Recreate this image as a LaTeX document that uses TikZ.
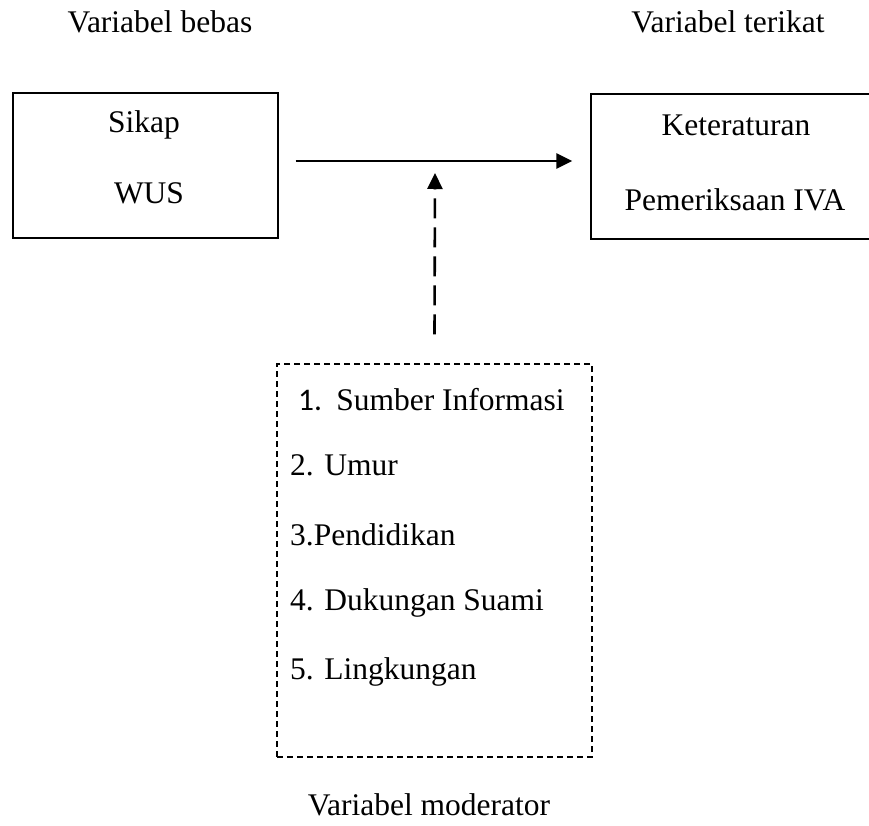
\documentclass[tikz,border=0pt]{standalone}
\usepackage{fontspec}
\setmainfont{Liberation Serif}
\newfontfamily\calibrifont{Carlito}
\usetikzlibrary{arrows.meta}
\begin{document}
\begin{tikzpicture}[x=1pt,y=-1pt,
  txt/.style={font=\fontsize{31.5}{38}\selectfont, inner sep=0pt},
  box/.style={draw, line width=1.4pt, rectangle, inner sep=0pt},
  modbox/.style={draw, line width=1.3pt, dash pattern=on 6pt off 4pt, rectangle, inner sep=0pt},
  arr/.style={line width=2.6pt, -{Triangle[length=16pt,width=15pt]}},
  darr/.style={line width=2.6pt, dash pattern=on 20pt off 9pt, -{Triangle[length=16pt,width=15pt]}}]
\useasboundingbox (0,0) rectangle (869,825);
% titles
\node[txt] (tb) at (160,22) {Variabel bebas};
\node[txt] (tt) at (728,22) {Variabel terikat};
\node[txt] (tm) at (429,805) {Variabel moderator};
% boxes
\node[box, minimum width=265pt, minimum height=145pt] (L) at (145.5,165.5) {};
\node[box, minimum width=299pt, minimum height=145pt] (R) at (740.5,166.5) {};
\node[modbox, minimum width=315pt, minimum height=393pt] (M) at (434.5,560.5) {};
% box texts
\node[txt] (l1) at (144,125) {Sikap};
\node[txt] (l2) at (149,193) {WUS};
\node[txt] (r1) at (736,125) {Keteraturan};
\node[txt] (r2) at (735,200) {Pemeriksaan IVA};
% moderator items
\node[txt, anchor=west] (m1) at (298,400) {{\calibrifont 1.}\hspace{0.45em}Sumber Informasi};
\node[txt, anchor=west] (m2) at (290,465) {2. Umur};
\node[txt, anchor=west] (m3) at (290,535) {3.Pendidikan};
\node[txt, anchor=west] (m4) at (290,603) {4. Dukungan Suami};
\node[txt, anchor=west] (m5) at (290,672) {5. Lingkungan};
% connectors
\draw[arr] ([xshift=17pt,yshift=4.5pt]L.east) -- ([xshift=-18pt,yshift=5.5pt]R.west);
\coordinate (tip) at (435,173);
\draw[darr] ([yshift=29pt]M.north) -- (tip);
\end{tikzpicture}
\end{document}
